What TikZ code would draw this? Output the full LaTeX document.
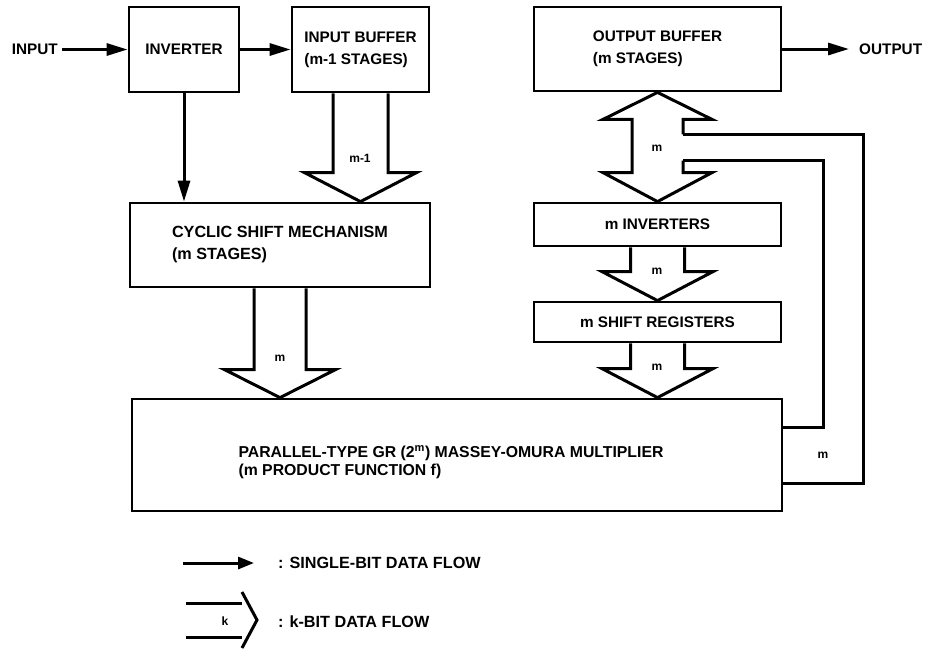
\documentclass[tikz,border=0pt]{standalone}
\usepackage{fontspec}
\setmainfont{Liberation Sans}
\usetikzlibrary{arrows.meta,calc}
\newcommand\fsmain{\fontsize{15.3pt}{22pt}\selectfont\bfseries}
\newcommand\fswide{\fontsize{16.2pt}{22pt}\selectfont\bfseries}
\newcommand\fsmult{\fontsize{15.8pt}{18pt}\selectfont\bfseries}
\newcommand\fsm{\fontsize{12pt}{14pt}\selectfont\bfseries}
% hollow (k-bit) downward arrow: #1 shaft top, #2 tip, #3 half shaft, #4 half head, #5 head length
\newcommand\hdown[5]{%
  \draw[hol] ($(#1)+(-#3,0)$) -- ($(#2)+(-#3,-#5)$) -- ($(#2)+(-#4,-#5)$) -- (#2)
    -- ($(#2)+(#4,-#5)$) -- ($(#2)+(#3,-#5)$) -- ($(#1)+(#3,0)$);}
\begin{document}
\begin{tikzpicture}[x=1pt,y=-1pt,
  box/.style={draw,line width=2.8pt,inner sep=0pt,align=left,font=\fsmain},
  lbl/.style={inner sep=0pt,font=\fsmain},
  mlbl/.style={inner sep=0pt,font=\fsm},
  sarrow/.style={line width=3pt,-{Triangle[length=21pt,width=12pt]}},
  hol/.style={draw,line width=3pt,line join=miter},
  fb/.style={line width=3pt}]
\useasboundingbox (0,0) rectangle (925,649);

% boxes
\node[box,minimum width=110pt,minimum height=85pt] (inv) at (184,49.5) {INVERTER};
\node[box,minimum width=137pt,minimum height=85pt] (ibuf) at (360.5,49.5) {INPUT BUFFER\\(m-1 STAGES)};
\node[box,minimum width=247pt,minimum height=84pt] (obuf) at (657.5,49) {OUTPUT BUFFER\\(m STAGES)};
\node[box,font=\fswide,minimum width=300pt,minimum height=84pt] (cyc) at (280,245) {CYCLIC SHIFT MECHANISM\\(m STAGES)};
\node[box,minimum width=247pt,minimum height=43pt] (minv) at (657.5,224.5) {m INVERTERS};
\node[box,minimum width=247pt,minimum height=40pt] (msr) at (657.5,322) {m SHIFT REGISTERS};
\node[box,minimum width=650pt,minimum height=112pt] (mult) at (457,455) {};
\node[lbl,align=left,font=\fsmult] (multt) at (451,462) {PARALLEL-TYPE GR (2\textsuperscript{m}) MASSEY-OMURA MULTIPLIER\\(m PRODUCT FUNCTION f)};

% input / output
\node[lbl,anchor=east] (in) at (58,49.5) {INPUT};
\node[lbl,anchor=west] (out) at (859,49) {OUTPUT};
\draw[sarrow] ([xshift=4pt]in.east) -- (inv.west);
\draw[sarrow] (inv.east) -- (ibuf.west);
\draw[sarrow] (inv.south) -- (inv.south |- cyc.north);
\draw[sarrow] (obuf.east) -- ([xshift=-10pt]out.west);

% hollow arrows
\coordinate (t1) at (ibuf.south |- cyc.north);
\hdown{ibuf.south}{t1}{27.5}{56}{29}
\node[mlbl] (l1) at (360,158) {m-1};
\coordinate (t2) at (cyc.south |- mult.north);
\hdown{cyc.south}{t2}{26}{55.5}{28}
\node[mlbl] (l2) at (280,358) {m};
\hdown{minv.south}{msr.north}{27}{55.5}{29}
\node[mlbl] (l4) at (657,271) {m};
\coordinate (t5) at (msr.south |- mult.north);
\hdown{msr.south}{t5}{27}{55.5}{29}
\node[mlbl] (l5) at (657,367) {m};

% bidirectional arrow with feedback
\coordinate (dtop) at (obuf.south);
\coordinate (dbot) at (minv.north);
\coordinate (fb1) at ($(dtop)+(25.5,42)$);
\coordinate (fb2) at ($(dbot)+(25.5,-41)$);
\draw[hol] (fb1) -- ($(dtop)+(25.5,27)$) -- ($(dtop)+(54.5,27)$) -- (dtop)
  -- ($(dtop)+(-54.5,27)$) -- ($(dtop)+(-25.5,27)$) -- ($(dbot)+(-25.5,-29)$)
  -- ($(dbot)+(-54.5,-29)$) -- (dbot) -- ($(dbot)+(54.5,-29)$)
  -- ($(dbot)+(25.5,-29)$) -- (fb2);
\draw[fb] (fb1) -| ($(mult.east)+(80,28)$) -- ($(mult.east)+(0,28)$);
\draw[fb] (fb2) -| ($(mult.east)+(40,-28)$) -- ($(mult.east)+(0,-28)$);
\node[mlbl] (l3) at (657,148) {m};
\node[mlbl] (l6) at (823,455) {m};

% legend
\coordinate (s1) at (183,563);
\coordinate (s2) at (254,563);
\draw[line width=3pt,-{Triangle[length=16pt,width=12pt]}] (s1) -- (s2);
\node[lbl,font=\fswide,anchor=west] (st) at (278,563) {: SINGLE-BIT DATA FLOW};
\coordinate (kc1) at (242,592);
\coordinate (kc2) at (257,620);
\coordinate (kc3) at (242,648);
\coordinate (k1) at (186,603);
\coordinate (k2) at (186,637);
\draw[fb] (k1) -- (k1 -| kc1);
\draw[fb] (k2) -- (k2 -| kc1);
\draw[hol] (kc1) -- (kc2) -- (kc3);
\node[mlbl] (kl) at (225,621) {k};
\node[lbl,font=\fswide,anchor=west] (kt) at (278,622) {: k-BIT DATA FLOW};
\end{tikzpicture}
\end{document}
